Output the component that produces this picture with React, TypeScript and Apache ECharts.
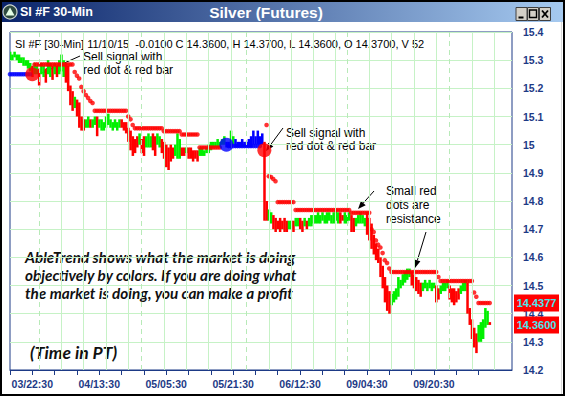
import React, { useEffect, useRef } from 'react';
import * as echarts from 'echarts';

// ---------------- data ----------------
const tickLabels = ['03/22:30', '04/13:30', '05/05:30', '05/21:30', '06/12:30', '09/04:30', '09/20:30'];
const tickLabelIdx = [10, 40, 70, 100, 130, 160, 190];
const categoryCount = 226;

const barHigh = [
  15.33, 15.32, 15.33, 15.32, 15.32, 15.31, 15.31, 15.30, 15.30, 15.29,
  15.28, 15.29, 15.28, 15.27, 15.29, 15.28, 15.27, 15.30, 15.29, 15.28,
  15.29, 15.28, 15.30, 15.32, 15.30, 15.29, 15.28, 15.21, 15.19, 15.17,
  15.16, 15.15, 15.10, 15.09, 15.09, 15.10, 15.09, 15.09, 15.10, 15.10,
  15.09, 15.09, 15.08, 15.10, 15.11, 15.09, 15.08, 15.09, 15.08, 15.09,
  15.09, 15.08, 15.08, 15.06, 15.05, 15.03, 15.02, 15.03, 15.04, 15.02,
  15.03, 15.03, 15.04, 15.03, 15.04, 15.03, 15.04, 15.03, 15.02, 15.01,
  15.00, 14.99, 15.00, 14.99, 15.00, 15.04, 15.02, 14.99, 14.99, 14.99,
  14.99, 14.99, 14.98, 14.98, 14.98, 14.99, 14.99, 14.98, 14.99, 15.00,
  15.01, 15.01, 15.01, 15.02, 15.01, 15.02, 15.03, 15.01, 15.01, 15.05,
  15.03, 15.02, 15.01, 15.01, 15.02, 15.01, 15.01, 15.02, 15.03, 15.05,
  15.03, 15.05, 15.03, 15.04, 15.01, 14.80, 14.77, 14.76, 14.75, 14.74,
  14.73, 14.74, 14.73, 14.74, 14.73, 14.73, 14.73, 14.73, 14.74, 14.74,
  14.74, 14.73, 14.74, 14.73, 14.74, 14.75, 14.75, 14.75, 14.76, 14.75,
  14.76, 14.75, 14.76, 14.76, 14.75, 14.76, 14.77, 14.76, 14.76, 14.75,
  14.76, 14.75, 14.76, 14.75, 14.74, 14.74, 14.75, 14.76, 14.75, 14.74,
  14.76, 14.74, 14.72, 14.68, 14.65, 14.63, 14.60, 14.57, 14.53, 14.50,
  14.48, 14.47, 14.48, 14.49, 14.53, 14.52, 14.54, 14.55, 14.56, 14.56,
  14.55, 14.54, 14.53, 14.52, 14.51, 14.51, 14.52, 14.51, 14.52, 14.51,
  14.51, 14.50, 14.49, 14.50, 14.51, 14.51, 14.52, 14.50, 14.49, 14.49,
  14.48, 14.49, 14.50, 14.51, 14.52, 14.51, 14.42, 14.38, 14.35, 14.33,
  14.36, 14.37, 14.38, 14.42, 14.41, 14.37,
];

const barLow = [
  15.30, 15.30, 15.31, 15.30, 15.29, 15.29, 15.28, 15.28, 15.27, 15.26,
  15.24, 15.25, 15.25, 15.21, 15.25, 15.24, 15.22, 15.25, 15.24, 15.23,
  15.25, 15.24, 15.25, 15.26, 15.24, 15.22, 15.19, 15.14, 15.12, 15.13,
  15.10, 15.06, 15.05, 15.05, 15.06, 15.06, 15.06, 15.06, 15.07, 15.03,
  15.06, 15.05, 15.05, 15.06, 15.07, 15.06, 15.05, 15.06, 15.05, 15.06,
  15.06, 15.05, 15.04, 15.01, 14.98, 14.96, 14.97, 14.99, 15.00, 14.97,
  14.96, 14.99, 14.99, 14.99, 14.98, 14.96, 15.00, 14.99, 14.97, 14.95,
  14.92, 14.91, 14.94, 14.95, 14.96, 14.95, 14.95, 14.96, 14.96, 14.97,
  14.95, 14.95, 14.94, 14.95, 14.94, 14.96, 14.96, 14.96, 14.97, 14.97,
  14.98, 14.99, 14.99, 14.99, 14.99, 15.00, 15.00, 14.99, 14.99, 15.00,
  15.00, 14.99, 14.99, 14.99, 14.99, 14.99, 14.99, 14.99, 14.99, 15.00,
  15.00, 15.00, 15.00, 15.00, 14.73, 14.73, 14.73, 14.72, 14.70, 14.69,
  14.70, 14.69, 14.70, 14.69, 14.69, 14.70, 14.70, 14.69, 14.71, 14.71,
  14.70, 14.69, 14.71, 14.70, 14.71, 14.71, 14.72, 14.72, 14.72, 14.72,
  14.73, 14.72, 14.72, 14.73, 14.72, 14.72, 14.73, 14.72, 14.72, 14.73,
  14.72, 14.72, 14.73, 14.69, 14.69, 14.71, 14.72, 14.72, 14.72, 14.71,
  14.68, 14.66, 14.63, 14.61, 14.59, 14.58, 14.53, 14.49, 14.44, 14.41,
  14.40, 14.43, 14.44, 14.45, 14.46, 14.49, 14.50, 14.51, 14.52, 14.53,
  14.50, 14.49, 14.48, 14.47, 14.46, 14.48, 14.49, 14.48, 14.49, 14.48,
  14.49, 14.44, 14.45, 14.47, 14.48, 14.48, 14.49, 14.45, 14.44, 14.43,
  14.44, 14.45, 14.47, 14.48, 14.48, 14.40, 14.36, 14.31, 14.28, 14.26,
  14.30, 14.30, 14.31, 14.35, 14.36, 14.36,
];

// trend colour of every bar: r = red (down), g = green (up), b = blue (buy zone)
const barColorRuns = [
  'gggggggggg', 'r', 'gg', 'r', 'gg', 'r', 'gg', 'r', 'g', 'r', 'ggg', 'rrrr', 'g', 'rrrr',
  'gg', 'r', 'gg', 'r', 'gggggggggg', 'rrrrrrrr', 'g', 'rr', 'ggg', 'rr', 'gg', 'rrrrrr',
  'ggg', 'rr', 'g', 'rrrrr', 'gggggggggggg', 'bb', 'gg', 'bbbbbbbbbbbbb', 'rr', 'gg',
  'rrrrrrr', 'gg', 'r', 'gg', 'rr', 'g', 'r', 'gggggggggggggg', 'rr', 'ggg', 'rr', 'ggggg',
  'rrrrrrrrrrr', 'ggggggggg', 'rrrrr', 'gggggg', 'rr', 'gggg', 'rrrrr', 'ggg', 'rrrrr',
  'ggggg', 'r',
];

// stop dots: [firstBar, lastBar, level]
const blueStopRuns = [
  [0, 9, 15.25],
  [98, 112, 14.995],
];
const redStopRuns = [
  [11, 28, 15.285],
  [29, 29, 15.258], [30, 30, 15.245], [31, 31, 15.235], [32, 32, 15.205], [33, 33, 15.19],
  [34, 34, 15.176], [35, 35, 15.166], [36, 36, 15.155], [37, 37, 15.148],
  [38, 52, 15.12],
  [53, 53, 15.10], [54, 54, 15.09], [55, 55, 15.07],
  [56, 68, 15.058],
  [69, 76, 15.048],
  [77, 84, 15.036],
  [85, 94, 14.99],
  [115, 115, 15.07],
  [116, 116, 14.888], [117, 117, 14.885], [118, 118, 14.878], [119, 119, 14.87],
  [120, 127, 14.796],
  [128, 152, 14.768],
  [153, 161, 14.758],
  [162, 162, 14.70], [163, 163, 14.69], [164, 164, 14.66], [165, 165, 14.645], [166, 166, 14.635],
  [167, 167, 14.615], [168, 168, 14.59], [169, 169, 14.58], [170, 170, 14.56],
  [171, 191, 14.548],
  [192, 192, 14.53],
  [193, 207, 14.516],
  [208, 208, 14.475], [209, 209, 14.46],
  [210, 215, 14.4377],
];

const bigRedDots = [[10, 15.25], [114, 14.98]];
const bigBlueDots = [[97, 15.0]];

const lastStop = 14.4377;
const lastClose = 14.36;

const yMin = 14.2;
const yMax = 15.4;
const yStep = 0.1;

// session starts (dashed verticals); a solid grid line every 10 bars after each
const dayBreakIdx = [13, 59, 106, 151, 197];
const gridEvery = 10;

const headerText = 'SI #F [30-Min] 11/10/15  -0.0100 C 14.3600, H 14.3700, L 14.3600, O 14.3700, V 52';

// ---------------- helpers ----------------
const COLORS: Record<string, string> = { r: '#ff0000', g: '#00f000', b: '#0000ff' };
const AXIS_BLUE = '#1d3a86';
const GRID_GREEN = '#c6f2c6';
const FONT = 'Liberation Sans, Arial, sans-serif';

function expandRuns(runs: number[][]) {
  const out: number[][] = [];
  runs.forEach(([a, b, v]) => {
    for (let i = a; i <= b; i++) out.push([i, v]);
  });
  return out;
}

function arrow(x1: number, y1: number, x2: number, y2: number) {
  const ang = Math.atan2(y2 - y1, x2 - x1);
  const L = 8;
  const W = 3.2;
  const bx = x2 - L * Math.cos(ang);
  const by = y2 - L * Math.sin(ang);
  const px = -Math.sin(ang) * W;
  const py = Math.cos(ang) * W;
  return [
    { type: 'line', shape: { x1, y1, x2: bx, y2: by }, style: { stroke: '#000', lineWidth: 1 }, silent: true },
    {
      type: 'polygon',
      shape: { points: [[x2, y2], [bx + px, by + py], [bx - px, by - py]] },
      style: { fill: '#000' },
      silent: true,
    },
  ];
}

export default function App() {
  const ref = useRef<HTMLDivElement>(null);

  useEffect(() => {
    document.body.style.margin = '0';
    if (!ref.current) return;
    const chart = echarts.init(ref.current, null, { renderer: 'svg', width: 565, height: 396 });

    const barColors = barColorRuns.join('').split('');
    const categories = Array.from({ length: categoryCount }, (_, i) => {
      const k = tickLabelIdx.indexOf(i);
      return k >= 0 ? tickLabels[k] : '';
    });
    const barData = barHigh.map((h, i) => [i, h, barLow[i], ['r', 'g', 'b'].indexOf(barColors[i] || 'r')]);
    const palette = [COLORS.r, COLORS.g, COLORS.b];

    // vertical grid lines
    const solidGrid: number[] = [];
    const starts = [dayBreakIdx[0] - gridEvery, ...dayBreakIdx];
    starts.forEach((s, k) => {
      const next = k + 1 < starts.length ? starts[k + 1] : categoryCount;
      for (let i = s + gridEvery; i < next - 2; i += gridEvery) solidGrid.push(i);
    });

    const graphic: any[] = [
      // window frame
      { type: 'rect', shape: { x: 1, y: 1, width: 563, height: 394 }, style: { fill: 'none', stroke: '#000', lineWidth: 2 }, silent: true },
      { type: 'line', shape: { x1: 561.5, y1: 22, x2: 561.5, y2: 394 }, style: { stroke: '#d8d8d8', lineWidth: 1 }, silent: true },
      {
        type: 'rect',
        shape: { x: 2, y: 2, width: 561, height: 20 },
        style: {
          fill: new echarts.graphic.LinearGradient(0, 0, 1, 0, [
            { offset: 0, color: '#0a246a' },
            { offset: 1, color: '#a6caf0' },
          ]),
        },
        silent: true,
      },
      { type: 'circle', shape: { cx: 10, cy: 12, r: 7 }, style: { fill: '#2e4a40', stroke: '#d0d8d0', lineWidth: 1.2 }, silent: true },
      { type: 'polygon', shape: { points: [[10, 7.5], [14.5, 15.5], [5.5, 15.5]] }, style: { fill: '#e6ffe6' }, silent: true },
      {
        type: 'text', x: 20, y: 12,
        style: { text: 'SI #F 30-Min', fill: '#fff', fontSize: 12.5, fontWeight: 'bold', verticalAlign: 'middle', fontFamily: FONT },
        silent: true,
      },
      {
        type: 'text', x: 266, y: 12,
        style: { text: 'Silver (Futures)', fill: '#fff', fontSize: 15.5, fontWeight: 'bold', align: 'center', verticalAlign: 'middle', fontFamily: FONT },
        silent: true,
      },
      // window buttons
      ...[516, 527.5, 539.5].map((bx) => ({
        type: 'rect', shape: { x: bx, y: 7.5, width: 11, height: 13 },
        style: { fill: '#d4d0c8', stroke: '#404040', lineWidth: 1 }, silent: true,
      })),
      { type: 'line', shape: { x1: 518.5, y1: 17.5, x2: 523.5, y2: 17.5 }, style: { stroke: '#000', lineWidth: 2 }, silent: true },
      { type: 'rect', shape: { x: 529.5, y: 10, width: 7, height: 7.5 }, style: { fill: 'none', stroke: '#000', lineWidth: 1.4 }, silent: true },
      { type: 'line', shape: { x1: 542, y1: 10.5, x2: 548, y2: 17.5 }, style: { stroke: '#000', lineWidth: 1.8 }, silent: true },
      { type: 'line', shape: { x1: 548, y1: 10.5, x2: 542, y2: 17.5 }, style: { stroke: '#000', lineWidth: 1.8 }, silent: true },
      // plot header
      {
        type: 'text', x: 15, y: 43.5,
        style: { text: headerText, fill: '#000', fontSize: 11, verticalAlign: 'middle', fontFamily: FONT },
        silent: true,
      },
      // annotations
      {
        type: 'text', x: 83, y: 50,
        style: { text: 'Sell signal with\nred dot & red bar', fill: '#000', fontSize: 12, lineHeight: 13.5, verticalAlign: 'top', fontFamily: FONT },
        silent: true,
      },
      ...arrow(80, 56, 42, 73),
      {
        type: 'text', x: 286, y: 126,
        style: { text: 'Sell signal with\nred dot & red bar', fill: '#000', fontSize: 12, lineHeight: 13.5, verticalAlign: 'top', fontFamily: FONT },
        silent: true,
      },
      ...arrow(283, 128, 266, 151),
      {
        type: 'text', x: 386, y: 184,
        style: { text: 'Small red\ndots are\nresistance', fill: '#000', fontSize: 12, lineHeight: 14, verticalAlign: 'top', fontFamily: FONT },
        silent: true,
      },
      ...arrow(374, 191, 358, 209),
      ...arrow(426, 232, 415, 268),
      {
        type: 'text', x: 25, y: 248,
        style: {
          text: 'AbleTrend shows what the market is doing\nobjectively by colors. If you are doing what\nthe market is doing, you can make a profit',
          fill: '#111', fontSize: 15.3, lineHeight: 18, fontStyle: 'italic', fontWeight: 'bold',
          fontFamily: 'Lato, sans-serif', verticalAlign: 'top',
        },
        silent: true,
      },
      {
        type: 'text', x: 30, y: 352,
        style: { text: '(Time in PT)', fill: '#111', fontSize: 17.5, fontStyle: 'italic', fontWeight: 'bold', fontFamily: 'Lato, sans-serif', verticalAlign: 'middle' },
        silent: true,
      },
    ];

    chart.setOption({
      animation: false,
      backgroundColor: '#ffffff',
      grid: { left: 10, top: 32, width: 502, height: 338, show: true, borderColor: AXIS_BLUE, borderWidth: 1, backgroundColor: '#fff' },
      xAxis: {
        type: 'category',
        data: categories,
        boundaryGap: false,
        axisLine: { show: true, lineStyle: { color: AXIS_BLUE, width: 1 } },
        axisTick: { show: true, length: 5, lineStyle: { color: AXIS_BLUE }, interval: (i: number) => i % 10 === 0 && i <= 210 },
        axisLabel: {
          interval: (i: number) => tickLabelIdx.includes(i),
          color: AXIS_BLUE, fontWeight: 'bold', fontSize: 10.5, margin: 8, fontFamily: FONT,
        },
        splitLine: { show: false },
      },
      yAxis: {
        type: 'value',
        position: 'right',
        min: yMin,
        max: yMax,
        interval: yStep,
        axisLine: { show: false },
        axisTick: { show: false },
        axisLabel: {
          margin: 11, color: AXIS_BLUE, fontWeight: 'bold', fontSize: 10.5, fontFamily: FONT,
          formatter: (v: number) => String(+v.toFixed(1)),
        },
        splitLine: { show: true, lineStyle: { color: GRID_GREEN, width: 1 } },
      },
      graphic,
      series: [
        {
          type: 'line',
          data: [],
          silent: true,
          markLine: {
            silent: true,
            symbol: 'none',
            label: { show: false },
            data: [
              ...solidGrid.map((i) => ({ xAxis: i, lineStyle: { color: GRID_GREEN, type: 'solid', width: 1 } })),
              ...dayBreakIdx.map((i) => ({ xAxis: i, lineStyle: { color: '#b8eab8', type: [5, 4], width: 1 } })),
            ],
          },
        },
        {
          type: 'custom',
          clip: true,
          silent: true,
          encode: { x: 0, y: [1, 2] },
          data: barData,
          renderItem: (params: any, api: any) => {
            const i = api.value(0);
            const p1 = api.coord([i, api.value(1)]);
            const p2 = api.coord([i, api.value(2)]);
            const w = api.coord([1, yMin])[0] - api.coord([0, yMin])[0];
            const h = Math.max(p2[1] - p1[1], 2);
            return {
              type: 'rect',
              shape: { x: p1[0] - w / 2, y: p1[1], width: w + 0.3, height: h },
              style: { fill: palette[api.value(3)] },
            };
          },
          z: 3,
        },
        {
          type: 'scatter',
          silent: true,
          symbolSize: 4.6,
          data: expandRuns(blueStopRuns),
          itemStyle: { color: '#0000ff' },
          z: 4,
        },
        {
          type: 'scatter',
          silent: true,
          symbolSize: 4.6,
          data: expandRuns(redStopRuns),
          itemStyle: { color: '#ff0000' },
          z: 4,
        },
        {
          type: 'scatter',
          silent: true,
          symbolSize: 14,
          data: bigRedDots,
          itemStyle: { color: '#ff0000' },
          z: 5,
        },
        {
          type: 'scatter',
          silent: true,
          symbolSize: 14,
          data: bigBlueDots,
          itemStyle: { color: '#0000ff' },
          z: 5,
        },
      ],
    });

    // value boxes on the price scale
    const valueBoxes: any[] = [];
    [lastStop, lastClose].forEach((v) => {
      const py = chart.convertToPixel({ yAxisIndex: 0 }, v) as unknown as number;
      valueBoxes.push({
        type: 'rect', shape: { x: 514, y: py - 8.5, width: 45, height: 17 },
        style: { fill: '#ff0000' }, silent: true, z: 10,
      });
      valueBoxes.push({
        type: 'text', x: 536.5, y: py,
        style: { text: v.toFixed(4), fill: '#48e6f0', fontSize: 11, fontWeight: 'bold', align: 'center', verticalAlign: 'middle', fontFamily: FONT },
        silent: true, z: 11,
      });
    });
    chart.setOption({ graphic: [...graphic, ...valueBoxes] });

    return () => chart.dispose();
  }, []);

  return <div ref={ref} style={{ position: 'absolute', left: 0, top: 0, width: 565, height: 396 }} />;
}
